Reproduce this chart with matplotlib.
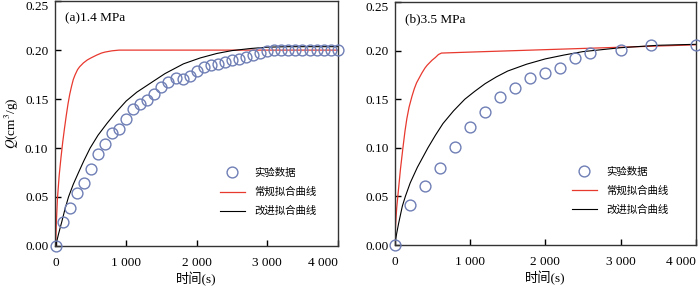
import matplotlib
matplotlib.use("Agg")
import matplotlib.pyplot as plt

plt.rcParams['font.family'] = ['Liberation Serif', 'Noto Sans CJK SC']
plt.rcParams['mathtext.fontset'] = 'stix'

# ---- data: panel (a) 1.4 MPa ----
t_exp_a = [0, 100, 200, 300, 400, 500, 600, 700, 800, 900, 1000, 1100, 1200, 1300,
           1400, 1500, 1600, 1700, 1800, 1900, 2000, 2100, 2200, 2300, 2400, 2500,
           2600, 2700, 2800, 2900, 3000, 3100, 3200, 3300, 3400, 3500, 3600, 3700,
           3800, 3900, 4000]
q_exp_a = [0.0, 0.024, 0.039, 0.054, 0.064, 0.079, 0.094, 0.104, 0.115, 0.119, 0.130,
           0.140, 0.145, 0.149, 0.155, 0.162, 0.167, 0.172, 0.171, 0.174, 0.179, 0.183,
           0.185, 0.186, 0.188, 0.190, 0.191, 0.193, 0.195, 0.197, 0.199, 0.200, 0.200,
           0.200, 0.200, 0.200, 0.200, 0.200, 0.200, 0.200, 0.200]

t_conv_a = [0, 10, 25, 50, 75, 100, 125, 150, 175, 200, 225, 250, 277, 310, 340, 395,
            450, 500, 584, 650, 700, 800, 900, 4000]
q_conv_a = [0.0, 0.024, 0.048, 0.072, 0.090, 0.106, 0.120, 0.133, 0.145, 0.155, 0.163,
            0.170, 0.175, 0.180, 0.183, 0.187, 0.190, 0.192, 0.195, 0.197, 0.198, 0.1993,
            0.200, 0.200]

t_impr_a = [0, 40, 88, 130, 182, 250, 324, 400, 489, 600, 726, 850, 1000, 1150, 1339,
            1550, 1813, 2050, 2287, 2500, 2759, 3000, 3300, 4000]
q_impr_a = [0.0, 0.012, 0.025, 0.037, 0.050, 0.063, 0.075, 0.087, 0.100, 0.113, 0.125,
            0.136, 0.148, 0.157, 0.166, 0.176, 0.186, 0.192, 0.1966, 0.1995, 0.2016,
            0.203, 0.2035, 0.2035]

# ---- data: panel (b) 3.5 MPa ----
t_exp_b = [0, 200, 400, 600, 800, 1000, 1200, 1400, 1600, 1800, 2000, 2200, 2400, 2600,
           3000, 3400, 4000]
q_exp_b = [0.0, 0.041, 0.061, 0.079, 0.101, 0.121, 0.137, 0.152, 0.162, 0.172, 0.177,
           0.182, 0.192, 0.198, 0.201, 0.206, 0.206]

t_conv_b = [0, 10, 25, 50, 75, 108, 135, 160, 190, 228, 260, 290, 325, 360, 400, 430,
            493, 540, 580, 620, 1000, 2000, 3000, 4000]
q_conv_b = [0.0, 0.020, 0.038, 0.058, 0.078, 0.100, 0.117, 0.130, 0.142, 0.153, 0.161,
            0.167, 0.172, 0.177, 0.182, 0.185, 0.190, 0.193, 0.196, 0.1975, 0.1985,
            0.201, 0.2035, 0.206]

t_impr_b = [0, 25, 50, 100, 140, 205, 300, 370, 440, 540, 640, 780, 930, 1060, 1200,
            1350, 1500, 1750, 2000, 2250, 2500, 2750, 3000, 3500, 4000]
q_impr_b = [0.0, 0.012, 0.022, 0.040, 0.050, 0.064, 0.080, 0.090, 0.100, 0.113, 0.125,
            0.138, 0.150, 0.158, 0.166, 0.173, 0.179, 0.186, 0.1915, 0.1955, 0.199,
            0.201, 0.203, 0.2055, 0.2065]

panel_titles = ["(a)1.4 MPa", "(b)3.5 MPa"]
legend_labels = ["实验数据", "常规拟合曲线", "改进拟合曲线"]
x_ticks = [0, 1000, 2000, 3000, 4000]
x_tick_labels = ["0", "1 000", "2 000", "3 000", "4 000"]
y_ticks = [0.0, 0.05, 0.10, 0.15, 0.20, 0.25]
y_tick_labels = ["0.00", "0.05", "0.10", "0.15", "0.20", "0.25"]

circle_color = "#6f7fb5"
red = "#e8392f"
spine_color = "#333333"

fig = plt.figure(figsize=(7.0, 2.89), dpi=100)
ax_a = fig.add_axes([0.078, 0.149, 0.405, 0.847])
ax_b = fig.add_axes([0.564, 0.152, 0.430, 0.841])

panels = [
    (ax_a, t_exp_a, q_exp_a, t_conv_a, q_conv_a, t_impr_a, q_impr_a, (-15, 4005), (0.565, 0.34)),
    (ax_b, t_exp_b, q_exp_b, t_conv_b, q_conv_b, t_impr_b, q_impr_b, (0, 4000), (0.57, 0.345)),
]

for i, (ax, te, qe, tc, qc, ti, qi, xlim, leg_pos) in enumerate(panels):
    ax.plot(te, qe, linestyle="none", marker="o", markersize=7.8, markerfacecolor="none",
            markeredgecolor=circle_color, markeredgewidth=1.0, clip_on=False, zorder=3,
            label=legend_labels[0])
    ax.plot(tc, qc, color=red, linewidth=0.9, label=legend_labels[1], zorder=2)
    ax.plot(ti, qi, color="black", linewidth=0.8, label=legend_labels[2], zorder=2)

    ax.set_xlim(*xlim)
    ax.set_ylim(0, 0.25)
    ax.set_xticks(x_ticks)
    ax.set_xticklabels(x_tick_labels)
    ax.set_yticks(y_ticks)
    ax.set_yticklabels(y_tick_labels)
    ax.get_xticklabels()[-1].set_horizontalalignment("right")
    ax.get_yticklabels()[-1].set_verticalalignment("top")
    ax.tick_params(direction="in", length=4, width=1, labelsize=9.5, colors="black",
                   top=False, right=False)
    ax.tick_params(axis="x", pad=8)
    ax.tick_params(axis="y", pad=4.5)
    for sp in ax.spines.values():
        sp.set_color(spine_color)
        sp.set_linewidth(1.0)

    ax.text(0.035, 0.93, panel_titles[i], transform=ax.transAxes, fontsize=9.5,
            va="center", ha="left")
    ax.set_xlabel("时间(s)", fontsize=9.5, labelpad=2)

    ax.legend(loc="upper left", bbox_to_anchor=leg_pos, frameon=False, fontsize=7.5,
              handlelength=2.4, handletextpad=0.9, labelspacing=0.85, borderpad=0)

ax_a.set_ylabel("$Q$(cm$^3$/g)", fontsize=9.5, labelpad=3)

fig.savefig("out.png", dpi=100)
